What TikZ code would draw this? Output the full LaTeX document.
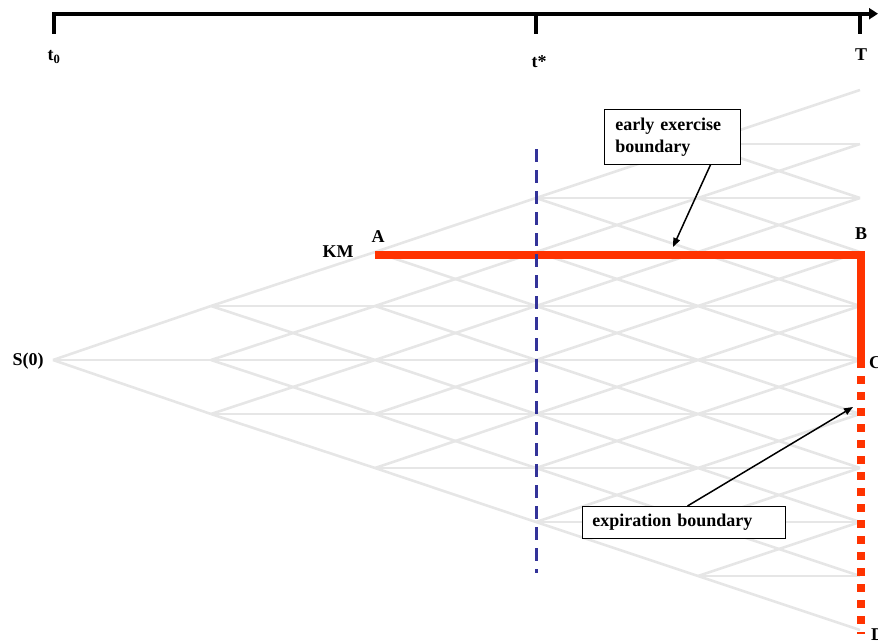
\documentclass[tikz,border=0pt]{standalone}
\usepackage{fontspec}
\setmainfont{Liberation Serif}
\usetikzlibrary{arrows.meta}
\definecolor{treegray}{RGB}{230,230,230}
\definecolor{boundred}{RGB}{255,51,0}
\definecolor{dashblue}{RGB}{51,51,153}
\begin{document}
\begin{tikzpicture}[x=1pt,y=-1pt,
  treeline/.style={treegray, line width=2.6pt},
  lab/.style={font=\bfseries\fontsize{18}{22}\selectfont, inner sep=0pt},
  axisline/.style={line width=4pt, black},
  callout/.style={draw=black, line width=0.9pt, fill=white,
    font=\bfseries\fontsize{18}{22}\selectfont, align=left, anchor=north west},
  pointer/.style={line width=1.5pt, black, -{Triangle[length=9pt,width=7pt]}},
  boundary/.style={boundred, line width=8pt},
  ]
\useasboundingbox (0,0) rectangle (878,641);

% trinomial lattice: time steps i = 0..5, levels m = 5-i .. 5+i
\foreach \i/\x in {0/53,1/211,2/375,3/536,4/698,5/860}{
  \pgfmathtruncatemacro{\lo}{5-\i}
  \pgfmathtruncatemacro{\hi}{5+\i}
  \foreach \m in {\lo,...,\hi}{
    \coordinate (t\i-\m) at (\x,{360-54*(\m-5)});
  }
}
\foreach \i in {0,...,4}{
  \pgfmathtruncatemacro{\nx}{\i+1}
  \pgfmathtruncatemacro{\lo}{5-\i}
  \pgfmathtruncatemacro{\hi}{5+\i}
  \foreach \m in {\lo,...,\hi}{
    \pgfmathtruncatemacro{\up}{\m+1}
    \pgfmathtruncatemacro{\dn}{\m-1}
    \draw[treeline] (t\i-\m) -- (t\nx-\up);
    \draw[treeline] (t\i-\m) -- (t\nx-\m);
    \draw[treeline] (t\i-\m) -- (t\nx-\dn);
  }
}

% time axis
\coordinate (ax0b) at (53.7,33.5);
\coordinate (ax0t) at (53.7,13.7);
\coordinate (axE) at (878,13.7);
\coordinate (tsA) at (535.5,13.7);
\coordinate (tsB) at (535.5,33.5);
\coordinate (tTA) at (860.3,13.7);
\coordinate (tTB) at (860.3,33.5);
\draw[axisline, line join=miter, -{Triangle[length=9pt,width=11pt]}] (ax0b) -- (ax0t) -- (axE);
\draw[axisline] (tsA) -- (tsB);
\draw[axisline] (tTA) -- (tTB);
\node[lab] (l0) at (54,57) {t\textsubscript{0}};
\node[lab] (ls) at (539,62) {t*};
\node[lab] (lT) at (861,55) {T};

% exercise boundary
\coordinate (ptA) at (375,255);
\coordinate (ptB) at (861,255);
\coordinate (ptC) at (861,368);
\coordinate (ptD) at (861,634);
\draw[boundary, line join=miter] (ptA) -- (ptB) -- (ptC);
\draw[boundary, dash pattern=on 8pt off 8pt, dash phase=8pt] (ptC) -- (ptD);

% dashed line at t*
\coordinate (dsTop) at (536,149);
\coordinate (dsBot) at (536,573);
\draw[dashblue, line width=3pt, dash pattern=on 12.5pt off 8.5pt] (dsTop) -- (dsBot);

% labels
\node[lab] (lS) at (28,361) {S(0)};
\node[lab] (lKM) at (338,252) {KM};
\node[lab] (lA) at (378,237) {A};
\node[lab] (lB) at (861,234) {B};
\node[lab, anchor=west] (lC) at (869,363) {C};
\node[lab, anchor=north west] (lD) at (871,629) {D};

% callouts
\node[callout, text width=114pt, inner xsep=11pt, minimum height=55pt] (ee) at (604,109) {early exercise\\boundary};
\node[callout, text width=183pt, inner xsep=10pt, minimum height=32pt] (xb) at (582,506) {expiration boundary};
\coordinate (eeTip) at (673,247);
\coordinate (xbTip) at (853,407);
\draw[pointer] ([xshift=38pt]ee.south) -- (eeTip);
\draw[pointer] ([xshift=3.5pt]xb.north) -- (xbTip);
\end{tikzpicture}
\end{document}
